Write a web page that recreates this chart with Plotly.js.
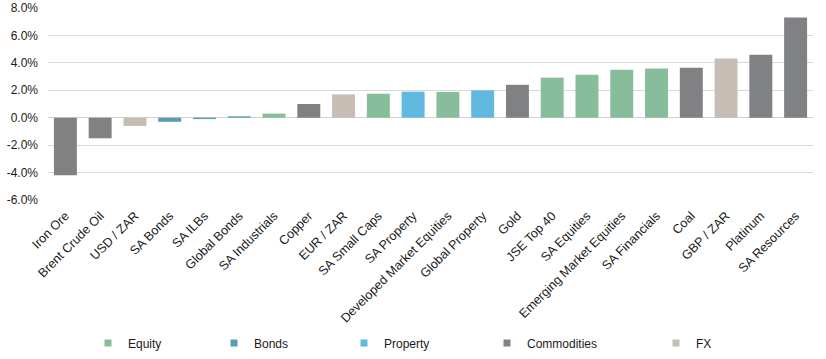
<!DOCTYPE html>
<html>
<head>
<meta charset="utf-8">
<script src="https://cdn.plot.ly/plotly-3.0.1.min.js"></script>
<style>html,body{margin:0;padding:0;background:#fff;}#chart{width:826px;height:359px;}</style>
</head>
<body>
<div id="chart"></div>
<script>
var categories = ["Iron Ore","Brent Crude Oil","USD / ZAR","SA Bonds","SA ILBs","Global Bonds","SA Industrials","Copper","EUR / ZAR","SA Small Caps","SA Property","Developed Market Equities","Global Property","Gold","JSE Top 40","SA Equities","Emerging Market Equities","SA Financials","Coal","GBP / ZAR","Platinum","SA Resources"];
var values = [-4.2,-1.5,-0.6,-0.3,-0.1,0.1,0.3,1.0,1.7,1.75,1.9,1.88,2.0,2.4,2.92,3.14,3.5,3.58,3.65,4.31,4.6,7.3];
var groups = ["Commodities","Commodities","FX","Bonds","Bonds","Bonds","Equity","Commodities","FX","Equity","Property","Equity","Property","Commodities","Equity","Equity","Equity","Equity","Commodities","FX","Commodities","Commodities"];
var groupNames = ["Equity","Bonds","Property","Commodities","FX"];
var groupColors = ["#87BD9B","#5B9BB5","#62B9E0","#7F8183","#C6BEB3"];
var yTickVals = [-6,-4,-2,0,2,4,6,8];
var yTickText = ["-6.0%","-4.0%","-2.0%","0.0%","2.0%","4.0%","6.0%","8.0%"];

var legendMarkerX = [114,240,370,513,682];
var traces = [];
var layout = {
  width: 826, height: 359,
  margin: {l: 48, r: 13, t: 8, b: 158.5},
  paper_bgcolor: "#fff", plot_bgcolor: "#fff",
  font: {family: "Liberation Sans, Arial, sans-serif", size: 12, color: "#1a1a1a"},
  barmode: "relative",
  bargap: 0.34,
  showlegend: true,
  xaxis: {type: "category", categoryorder: "array", categoryarray: categories,
    tickangle: -45, showgrid: false, zeroline: false, showline: false, ticks: "",
    ticklabelstandoff: 5,
    tickfont: {size: 12.6, color: "#1a1a1a"}, automargin: false, fixedrange: true},
  yaxis: {range: [-6, 8], tickvals: yTickVals, ticktext: yTickText,
    showgrid: true, gridcolor: "#D9D9D9", gridwidth: 1,
    zeroline: true, zerolinecolor: "#D0D0D0", zerolinewidth: 1,
    showline: false, ticks: "", ticklabelstandoff: 9, tickfont: {size: 12, color: "#1a1a1a"},
    automargin: false, fixedrange: true}
};

groupNames.forEach(function(g, gi) {
  var xs = [], ys = [];
  categories.forEach(function(c, i) { if (groups[i] === g) { xs.push(c); ys.push(values[i]); } });
  traces.push({type: "bar", x: xs, y: ys, name: g, marker: {color: groupColors[gi]},
    showlegend: false, hoverinfo: "x+y"});
});
groupNames.forEach(function(g, gi) {
  var key = gi === 0 ? "legend" : "legend" + (gi + 1);
  traces.push({type: "scatter", mode: "markers", x: [null], y: [null], name: g,
    marker: {symbol: "square", size: 7, color: groupColors[gi]},
    legend: key, showlegend: true, hoverinfo: "skip"});
  layout[key] = {orientation: "h", xref: "container", yref: "container",
    x: (legendMarkerX[gi] - 6 - 20) / 826, xanchor: "left",
    y: 1 - 343 / 359, yanchor: "middle", bgcolor: "rgba(0,0,0,0)",
    font: {size: 12, color: "#1a1a1a"}, itemwidth: 30, borderwidth: 0};
});

Plotly.newPlot("chart", traces, layout, {displayModeBar: false, staticPlot: true});
</script>
</body>
</html>
